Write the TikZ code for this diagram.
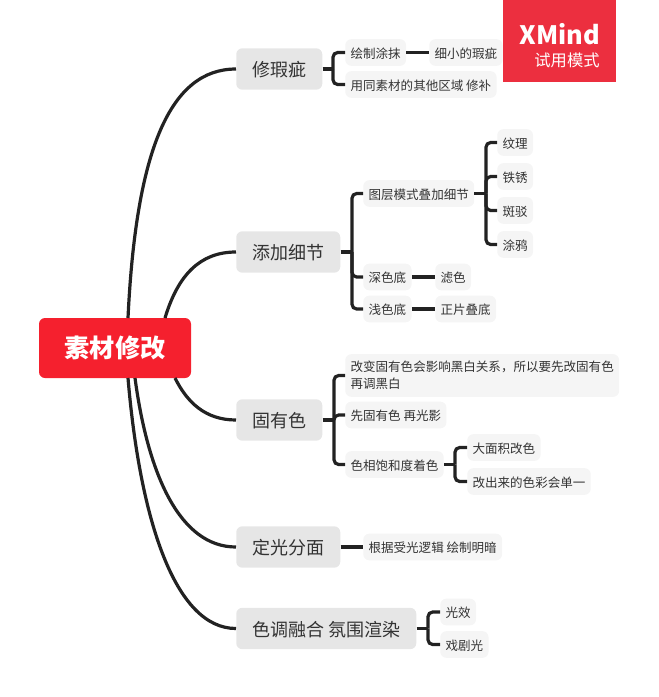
\documentclass[tikz,border=0pt]{standalone}
\usepackage{fontspec}
\setmainfont{Noto Sans CJK SC}
\tikzset{
  rootbox/.style={fill=rootred, rounded corners=4.5pt, text=white, font=\fontsize{18.9}{22}\selectfont\bfseries, minimum width=114pt, minimum height=45pt, inner sep=0pt},
  topicbox/.style={anchor=west, fill=topicgray, rounded corners=4.5pt, text=inkgray, font=\fontsize{13.5}{16}\selectfont, inner xsep=12pt, inner ysep=0pt, minimum height=31pt, text height=13.4pt, text depth=1.6pt},
  leafbox/.style={anchor=west, fill=leafgray, rounded corners=4.5pt, text=inkgray, font=\fontsize{9.4}{12.5}\selectfont, inner xsep=4pt, inner ysep=0pt, minimum height=20pt, align=left, text height=9.8pt, text depth=1.2pt},
  branch/.style={draw=linegray, line width=2.4pt},
  bracket/.style={draw=linegray, line width=2.4pt, rounded corners=3.5pt}
}
\definecolor{rootred}{HTML}{F5202E}
\definecolor{badgered}{HTML}{EC2F3F}
\definecolor{topicgray}{HTML}{E6E6E6}
\definecolor{leafgray}{HTML}{F5F5F5}
\definecolor{inkgray}{HTML}{333333}
\definecolor{linegray}{HTML}{222222}
\begin{document}
\begin{tikzpicture}[x=0.75pt,y=-0.75pt]
    \useasboundingbox (0,0) rectangle (658,697);
    \node [rootbox] (r) at (115,348) {素材修改};
    \node [topicbox] (a) at (236,69) {修瑕疵};
    \node [topicbox] (b) at (236,252) {添加细节};
    \node [topicbox] (c) at (236,420) {固有色};
    \node [topicbox] (d) at (236,547) {定光分面};
    \node [topicbox] (e) at (236,628.5) {色调融合 氛围渲染};
    \coordinate (r1) at (128,318);
    \coordinate (r2) at (165,318);
    \coordinate (r3) at (175,378);
    \coordinate (r4) at (135,378);
    \coordinate (r5) at (128,378);
    \draw [branch] (r1) .. controls (136,150) and (170,69) .. (a.west);
    \draw [branch] (r2) .. controls (178,275) and (200,252) .. (b.west);
    \draw [branch] (r3) .. controls (187,402) and (205,420) .. (c.west);
    \draw [branch] (r4) .. controls (148,475) and (180,547) .. (d.west);
    \draw [branch] (r5) .. controls (140,520) and (175,628.5) .. (e.west);
    \node [leafbox] (a1) at (345,52.5) {绘制涂抹};
    \node [leafbox] (a2) at (429,52.5) {细小的瑕疵};
    \node [leafbox] (a3) at (345,84.5) {用同素材的其他区域 修补};
    \coordinate (ja) at (333,69);
    \draw [branch] (a.east) -- (ja);
    \draw [bracket] (ja) |- (a1.west);
    \draw [bracket] (ja) |- (a3.west);
    \draw [branch] (a1) -- (a2);
    \node [leafbox] (b1) at (363,193.5) {图层模式叠加细节};
    \node [leafbox] (b2) at (497,142.5) {纹理};
    \node [leafbox] (b3) at (497,176.5) {铁锈};
    \node [leafbox] (b4) at (497,210.5) {斑驳};
    \node [leafbox] (b5) at (497,244.5) {涂鸦};
    \node [leafbox] (b6) at (363,277) {深色底};
    \node [leafbox] (b7) at (435,277) {滤色};
    \node [leafbox] (b8) at (363,309) {浅色底};
    \node [leafbox] (b9) at (435,309) {正片叠底};
    \coordinate (jb) at (352,252);
    \coordinate (jf) at (486,193.5);
    \draw [branch] (b.east) -- (jb);
    \draw [bracket] (jb) |- (b1.west);
    \draw [bracket] (jb) |- (b6.west);
    \draw [bracket] (jb) |- (b8.west);
    \draw [branch] (b1.east) -- (jf);
    \draw [bracket] (jf) |- (b2.west);
    \draw [bracket] (jf) |- (b3.west);
    \draw [bracket] (jf) |- (b4.west);
    \draw [bracket] (jf) |- (b5.west);
    \draw [branch] (b6) -- (b7);
    \draw [branch] (b8) -- (b9);
    \node [leafbox, minimum height=32pt, text height=, text depth=] (c1) at (345,375.5) {改变固有色会影响黑白关系，所以要先改固有色\\再调黑白};
    \node [leafbox] (c2) at (345,415) {先固有色 再光影};
    \node [leafbox] (c3) at (345,464.5) {色相饱和度着色};
    \node [leafbox] (c4) at (467,447.5) {大面积改色};
    \node [leafbox] (c5) at (467,481.5) {改出来的色彩会单一};
    \coordinate (jc) at (334,420);
    \coordinate (jg) at (455,464.5);
    \draw [branch] (c.east) -- (jc);
    \draw [bracket] (jc) |- (c1.west);
    \draw [bracket] (jc) |- (c2.west);
    \draw [bracket] (jc) |- (c3.west);
    \draw [branch] (c3.east) -- (jg);
    \draw [bracket] (jg) |- (c4.west);
    \draw [bracket] (jg) |- (c5.west);
    \node [leafbox] (d1) at (363,547) {根据受光逻辑 绘制明暗};
    \draw [branch] (d) -- (d1);
    \node [leafbox] (e1) at (440,612) {光效};
    \node [leafbox] (e2) at (440,644.5) {戏剧光};
    \coordinate (je) at (428,628.5);
    \draw [branch] (e.east) -- (je);
    \draw [bracket] (je) |- (e1.west);
    \draw [bracket] (je) |- (e2.west);
    \node [fill=badgered, minimum width=85pt, minimum height=61.5pt, inner sep=0pt] (x) at (559.5,41) {};
    \node [text=white, font=\fontsize{19}{21}\selectfont\bfseries] (x1) at (560,34) {XMind};
    \node [text=white, font=\fontsize{12.2}{14}\selectfont] (x2) at (567,60) {试用模式};
\end{tikzpicture}
\end{document}
